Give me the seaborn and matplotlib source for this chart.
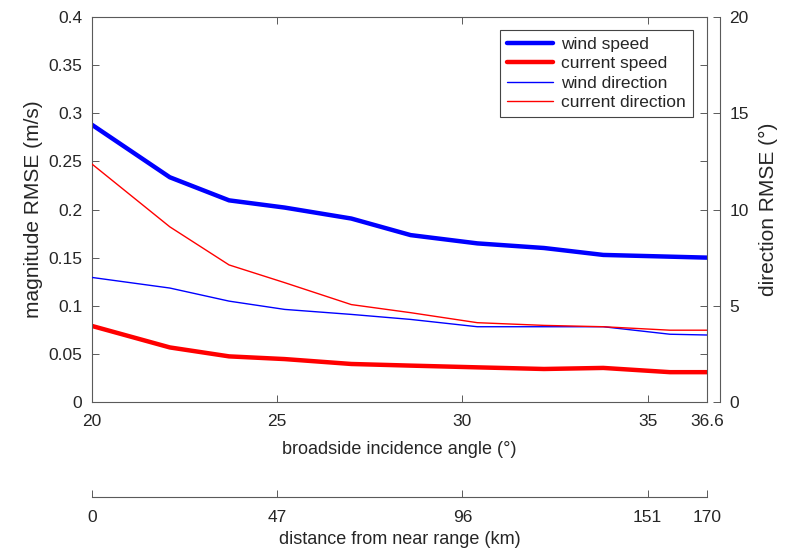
import matplotlib
matplotlib.use("Agg")
import matplotlib.pyplot as plt
import seaborn as sns
import pandas as pd

# ---- data ----
angle = [20.0, 22.1, 23.7, 25.2, 27.0, 28.6, 30.4, 32.2, 33.8, 35.6, 36.6]
wind_speed = [0.288, 0.2335, 0.2095, 0.202, 0.1906, 0.1734, 0.1648, 0.160, 0.1528, 0.151, 0.150]
current_speed = [0.079, 0.0567, 0.0474, 0.0446, 0.0395, 0.0378, 0.036, 0.0343, 0.0354, 0.031, 0.031]
wind_direction = [6.47, 5.92, 5.24, 4.81, 4.55, 4.29, 3.91, 3.91, 3.91, 3.52, 3.48]
current_direction = [12.36, 9.1, 7.12, 6.2, 5.06, 4.64, 4.12, 3.98, 3.91, 3.73, 3.73]

angle_ticks = [20, 25, 30, 35, 36.6]
angle_ticklabels = ["20", "25", "30", "35", "36.6"]
dist_ticklabels = ["0", "47", "96", "151", "170"]
left_ticks = [0, 0.05, 0.1, 0.15, 0.2, 0.25, 0.3, 0.35, 0.4]
left_ticklabels = ["0", "0.05", "0.1", "0.15", "0.2", "0.25", "0.3", "0.35", "0.4"]
right_ticks = [0, 5, 10, 15, 20]

sns.set_style("white")
plt.rcParams['font.family'] = ['Liberation Sans', 'DejaVu Sans']
plt.rcParams['font.size'] = 12.5

txt = "#262626"
sp = "#5a5a5a"
W, H = 789, 553
fig = plt.figure(figsize=(W / 100, H / 100), dpi=100)
L, R, T, B = 92, 707, 17, 402
ax = fig.add_axes([L / W, 1 - B / H, (R - L) / W, (B - T) / H])
ax2 = ax.twinx()

df_ws = pd.DataFrame({"angle": angle, "v": wind_speed})
df_cs = pd.DataFrame({"angle": angle, "v": current_speed})
df_wd = pd.DataFrame({"angle": angle, "v": wind_direction})
df_cd = pd.DataFrame({"angle": angle, "v": current_direction})

sns.lineplot(data=df_ws, x="angle", y="v", ax=ax, color="#0000ff", linewidth=3.2, label="wind speed", legend=False)
sns.lineplot(data=df_cs, x="angle", y="v", ax=ax, color="#ff0000", linewidth=3.2, label="current speed", legend=False)
sns.lineplot(data=df_wd, x="angle", y="v", ax=ax2, color="#0000ff", linewidth=1.0, label="wind direction", legend=False)
sns.lineplot(data=df_cd, x="angle", y="v", ax=ax2, color="#ff0000", linewidth=1.0, label="current direction", legend=False)

ax.set_xlim(20, 36.6)
ax.set_ylim(0, 0.4)
ax2.set_ylim(0, 20)
ax.set_xticks(angle_ticks)
ax.set_xticklabels(angle_ticklabels)
ax.set_yticks(left_ticks)
ax.set_yticklabels(left_ticklabels)
ax2.set_yticks(right_ticks)

ax.set_xlabel("broadside incidence angle (°)", color=txt, labelpad=8, fontsize=13)
ax.set_ylabel("magnitude RMSE (m/s)", color=txt, labelpad=4, fontsize=15)
ax2.set_ylabel("direction RMSE (°)", color=txt, labelpad=7, fontsize=15)

for a in (ax, ax2):
    for s in a.spines.values():
        s.set_color(sp)
        s.set_linewidth(0.8)
ax2.spines["right"].set_position(("outward", 9))
ax2.spines["left"].set_visible(False)
ax2.spines["top"].set_visible(False)
ax2.spines["bottom"].set_visible(False)

ax.tick_params(axis="x", direction="in", length=5, width=0.7, colors=sp,
               labelcolor=txt, top=True, bottom=True, pad=9)
ax.tick_params(axis="y", direction="in", length=5, width=0.7, colors=sp,
               labelcolor=txt, left=True, right=True, pad=7)
ax2.tick_params(axis="y", direction="in", length=5, width=0.7, colors=sp,
                labelcolor=txt, right=True, left=False, pad=7)

h1, l1 = ax.get_legend_handles_labels()
h2, l2 = ax2.get_legend_handles_labels()
leg = ax2.legend(h1 + h2, l1 + l2, loc="upper right",
                 bbox_to_anchor=(1 - 14 / (R - L), 1 - 13 / (B - T)),
                 frameon=True, fancybox=False, edgecolor="#444444", framealpha=1,
                 fontsize=12.5, handlelength=2.7, handletextpad=0.45, borderpad=0.4,
                 labelspacing=0.24, borderaxespad=0)
leg.get_frame().set_linewidth(0.8)

# secondary distance axis
yline = 497
ax3 = fig.add_axes([L / W, 1 - yline / H, (R - L) / W, 0.0001])
ax3.set_xlim(20, 36.6)
ax3.set_ylim(0, 1)
for k in ("top", "left", "right"):
    ax3.spines[k].set_visible(False)
ax3.spines["bottom"].set_color(sp)
ax3.spines["bottom"].set_linewidth(0.8)
ax3.set_yticks([])
ax3.set_xticks(angle_ticks)
ax3.set_xticklabels(dist_ticklabels)
ax3.tick_params(axis="x", direction="in", length=5, width=0.7, colors=sp,
                labelcolor=txt, bottom=True, pad=9)
ax3.set_xlabel("distance from near range (km)", color=txt, labelpad=5, fontsize=13)
ax3.patch.set_visible(False)

fig.savefig("out.png", dpi=100)
